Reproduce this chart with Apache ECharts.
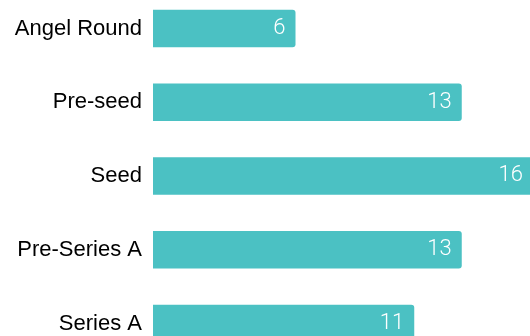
<!DOCTYPE html>
<html>
<head>
<meta charset="utf-8">
<script src="https://cdn.jsdelivr.net/npm/echarts@6/dist/echarts.min.js"></script>
<style>html,body{margin:0;padding:0;background:#fff}#c{width:530px;height:336px}</style>
</head>
<body>
<div id="c"></div>
<script>
const categories = ["Angel Round", "Pre-seed", "Seed", "Pre-Series A", "Series A"];
const values = [6, 13, 16, 13, 11];

const chart = echarts.init(document.getElementById('c'), null, {renderer: 'canvas'});
chart.setOption({
  animation: false,
  grid: {left: 153, top: -8.4, width: 380, height: 368.75, containLabel: false, outerBoundsMode: 'none'},
  xAxis: {type: 'value', min: 0, max: 16, show: false},
  yAxis: {
    type: 'category', data: categories, inverse: true,
    axisLine: {show: false}, axisTick: {show: false}, splitLine: {show: false},
    axisLabel: {color: '#000', fontSize: 22, fontFamily: 'Liberation Sans, Arial, sans-serif', margin: 11}
  },
  series: [{
    type: 'bar', data: values, barWidth: 37.5,
    itemStyle: {color: '#4BC1C3', borderRadius: [0, 3, 3, 0]},
    label: {show: true, position: 'insideRight', distance: 10, color: '#fff', fontSize: 22, fontWeight: 300, fontFamily: 'Roboto, sans-serif'}
  }]
});
</script>
</body>
</html>
